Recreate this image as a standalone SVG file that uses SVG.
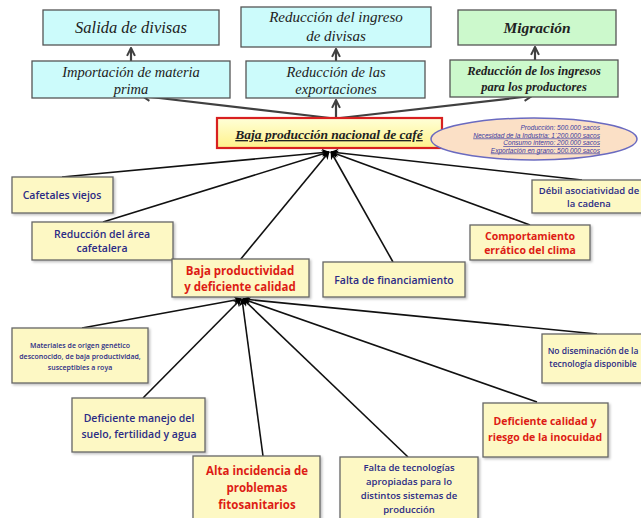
<svg xmlns="http://www.w3.org/2000/svg" width="641" height="518" viewBox="0 0 641 518">
<defs>
<marker id="ag" viewBox="0 0 10 10" refX="9" refY="5" markerWidth="4.5" markerHeight="4.5" orient="auto" markerUnits="strokeWidth"><path d="M1,1 L9,5 L1,9" fill="none" stroke="#404040" stroke-width="2"/></marker>
<marker id="ab" viewBox="0 0 10 10" refX="9" refY="5" markerWidth="5" markerHeight="5" orient="auto" markerUnits="strokeWidth"><path d="M0,0 L10,5 L0,10 L3,5 z" fill="#000"/></marker>
<linearGradient id="yg" x1="0" y1="0" x2="0" y2="1"><stop offset="0" stop-color="#ffffd8"/><stop offset="1" stop-color="#fff28a"/></linearGradient>
<filter id="sh" x="-10%" y="-10%" width="130%" height="140%"><feDropShadow dx="1.5" dy="1.5" stdDeviation="1" flood-color="#000" flood-opacity="0.25"/></filter>
</defs>
<style>
.cy{fill:#ccfbfb;stroke:#555;stroke-width:1.3}
.gr{fill:#ccf9cc;stroke:#555;stroke-width:1.3}
.yb{fill:#fdf8c4;stroke:#666;stroke-width:1.3;filter:url(#sh)}
.ts{font-family:"Liberation Serif",serif;font-style:italic;fill:#222;text-anchor:middle}
.tb{font-family:"Open Sans","Liberation Sans",sans-serif;fill:#2b2b85;text-anchor:middle;font-weight:600}
.tr{font-family:"Open Sans","Liberation Sans",sans-serif;fill:#dd1c14;text-anchor:middle;font-weight:700}
.cg{stroke:#404040;stroke-width:2.2;fill:none}
.ck{stroke:#111;stroke-width:1.6;fill:none;marker-end:url(#ab)}
.et{font-family:"Liberation Sans",sans-serif;font-style:italic;font-size:6.6px;fill:#3a3aa0;text-anchor:end}
</style>
<g id="connectors">
<line class="cg" x1="131" y1="61" x2="131" y2="48" marker-end="url(#ag)"/>
<line class="cg" x1="336" y1="61" x2="336" y2="49" marker-end="url(#ag)"/>
<line class="cg" x1="535" y1="60" x2="535" y2="47" marker-end="url(#ag)"/>
<line class="cg" x1="330" y1="118" x2="142" y2="96" marker-end="url(#ag)"/>
<line class="cg" x1="336" y1="118" x2="336" y2="100" marker-end="url(#ag)"/>
<line class="cg" x1="340" y1="118" x2="532" y2="96" marker-end="url(#ag)"/>
<line class="ck" x1="62" y1="177" x2="329" y2="152"/>
<line class="ck" x1="103" y1="222" x2="329" y2="152"/>
<line class="ck" x1="240" y1="260" x2="329" y2="152"/>
<line class="ck" x1="393" y1="262" x2="331" y2="152"/>
<line class="ck" x1="530" y1="225" x2="331" y2="152"/>
<line class="ck" x1="582" y1="180" x2="331" y2="152"/>
<line class="ck" x1="82" y1="328" x2="241" y2="299"/>
<line class="ck" x1="143" y1="398" x2="241" y2="299"/>
<line class="ck" x1="263" y1="456" x2="242" y2="299"/>
<line class="ck" x1="408" y1="457" x2="243" y2="299"/>
<line class="ck" x1="537" y1="402" x2="243" y2="299"/>
<line class="ck" x1="597" y1="334" x2="243" y2="299"/>
</g>
<g id="salida"><rect class="cy" x="43" y="10" width="176" height="35"/><text class="ts" x="131" y="33" font-size="16.5">Salida de divisas</text></g>
<g id="reduccion-ingreso"><rect class="cy" x="241" y="7" width="190" height="40"/><text class="ts" x="336" y="22" font-size="15">Reducción del ingreso</text><text class="ts" x="336" y="41" font-size="15">de divisas</text></g>
<g id="migracion"><rect class="gr" x="458" y="10" width="158" height="35"/><text class="ts" x="537" y="33" font-size="15.5" font-weight="bold">Migración</text></g>
<g id="importacion"><rect class="cy" x="32" y="61" width="198" height="37"/><text class="ts" x="131" y="77" font-size="14.5">Importación de materia</text><text class="ts" x="131" y="94" font-size="14.5">prima</text></g>
<g id="exportaciones"><rect class="cy" x="246" y="61" width="179" height="37"/><text class="ts" x="336" y="77" font-size="14.5">Reducción de las</text><text class="ts" x="336" y="94" font-size="14.5">exportaciones</text></g>
<g id="ingresos-productores"><rect class="gr" x="450" y="60" width="168" height="37"/><text class="ts" x="534" y="75" font-size="12.5" font-weight="bold">Reducción de los ingresos</text><text class="ts" x="534" y="91" font-size="12.5" font-weight="bold">para los productores</text></g>
<g id="central"><rect x="217" y="118" width="225" height="30" fill="url(#yg)" stroke="#d82020" stroke-width="2.2"/><text class="ts" x="329" y="139" font-size="13.5" font-weight="bold" text-decoration="underline">Baja producción nacional de café</text></g>
<g id="datos"><ellipse cx="534" cy="139" rx="103" ry="21" fill="#fbe0c6" stroke="#6a6ac0" stroke-width="1.5"/>
<text class="et" x="600" y="130">Producción: 500.000  sacos</text>
<text class="et" x="600" y="137.5" text-decoration="underline">Necesidad de la Industria: 1´200.000  sacos</text>
<text class="et" x="600" y="145" text-decoration="underline">Consumo interno: 200.000  sacos</text>
<text class="et" x="600" y="152.5" text-decoration="underline">Exportación en grano: 500.000  sacos</text></g>
<g id="cafetales"><rect class="yb" x="12" y="177" width="101" height="36"/><text class="tb" x="62" y="199" font-size="10.5">Cafetales viejos</text></g>
<g id="area"><rect class="yb" x="32" y="222" width="141" height="38"/><text class="tb" x="102" y="238" font-size="10.5">Reducción del área</text><text class="tb" x="102" y="252" font-size="10.5">cafetalera</text></g>
<g id="baja-productividad"><rect class="yb" x="172" y="259" width="137" height="38"/><text class="tr" x="240" y="275" font-size="11.5">Baja productividad</text><text class="tr" x="240" y="291" font-size="11.5">y deficiente calidad</text></g>
<g id="financiamiento"><rect class="yb" x="323" y="262" width="142" height="35"/><text class="tb" x="394" y="284" font-size="10.5">Falta de financiamiento</text></g>
<g id="clima"><rect class="yb" x="470" y="225" width="120" height="35"/><text class="tr" x="530" y="240" font-size="10.5">Comportamiento</text><text class="tr" x="530" y="254" font-size="10.5">errático del clima</text></g>
<g id="asociatividad"><rect class="yb" x="532" y="180" width="112" height="33"/><text class="tb" x="589" y="194" font-size="9.5">Débil asociatividad  de</text><text class="tb" x="589" y="207" font-size="9.5">la cadena</text></g>
<g id="materiales"><rect class="yb" x="12" y="328" width="136" height="55"/><text class="tb" x="80" y="348" font-size="7" font-weight="400">Materiales de origen genético</text><text class="tb" x="80" y="359" font-size="7" font-weight="400">desconocido, de baja productividad,</text><text class="tb" x="80" y="370" font-size="7" font-weight="400">susceptibles a roya</text></g>
<g id="suelo"><rect class="yb" x="72" y="398" width="133" height="54"/><text class="tb" x="139" y="422" font-size="10.5" font-weight="400">Deficiente manejo del</text><text class="tb" x="139" y="438" font-size="10.5" font-weight="400">suelo, fertilidad y agua</text></g>
<g id="fitosanitarios"><rect class="yb" x="193" y="456" width="127" height="66"/><text class="tr" x="257" y="475" font-size="11.5">Alta incidencia de</text><text class="tr" x="257" y="492" font-size="11.5">problemas</text><text class="tr" x="257" y="509" font-size="11.5">fitosanitarios</text></g>
<g id="tecnologias"><rect class="yb" x="340" y="457" width="138" height="65"/><text class="tb" x="409" y="471" font-size="9.5" font-weight="400">Falta de tecnologías</text><text class="tb" x="409" y="485" font-size="9.5" font-weight="400">apropiadas para lo</text><text class="tb" x="409" y="499" font-size="9.5" font-weight="400">distintos sistemas de</text><text class="tb" x="409" y="513" font-size="9.5" font-weight="400">producción</text></g>
<g id="inocuidad"><rect class="yb" x="483" y="403" width="125" height="54"/><text class="tr" x="545" y="425" font-size="10.5">Deficiente calidad y</text><text class="tr" x="545" y="441" font-size="10.5">riesgo de la inocuidad</text></g>
<g id="diseminacion"><rect class="yb" x="542" y="334" width="103" height="49"/><text class="tb" x="593" y="354" font-size="8.5" font-weight="400">No diseminación  de la</text><text class="tb" x="593" y="367" font-size="8.5" font-weight="400">tecnología disponible</text></g>
</svg>
